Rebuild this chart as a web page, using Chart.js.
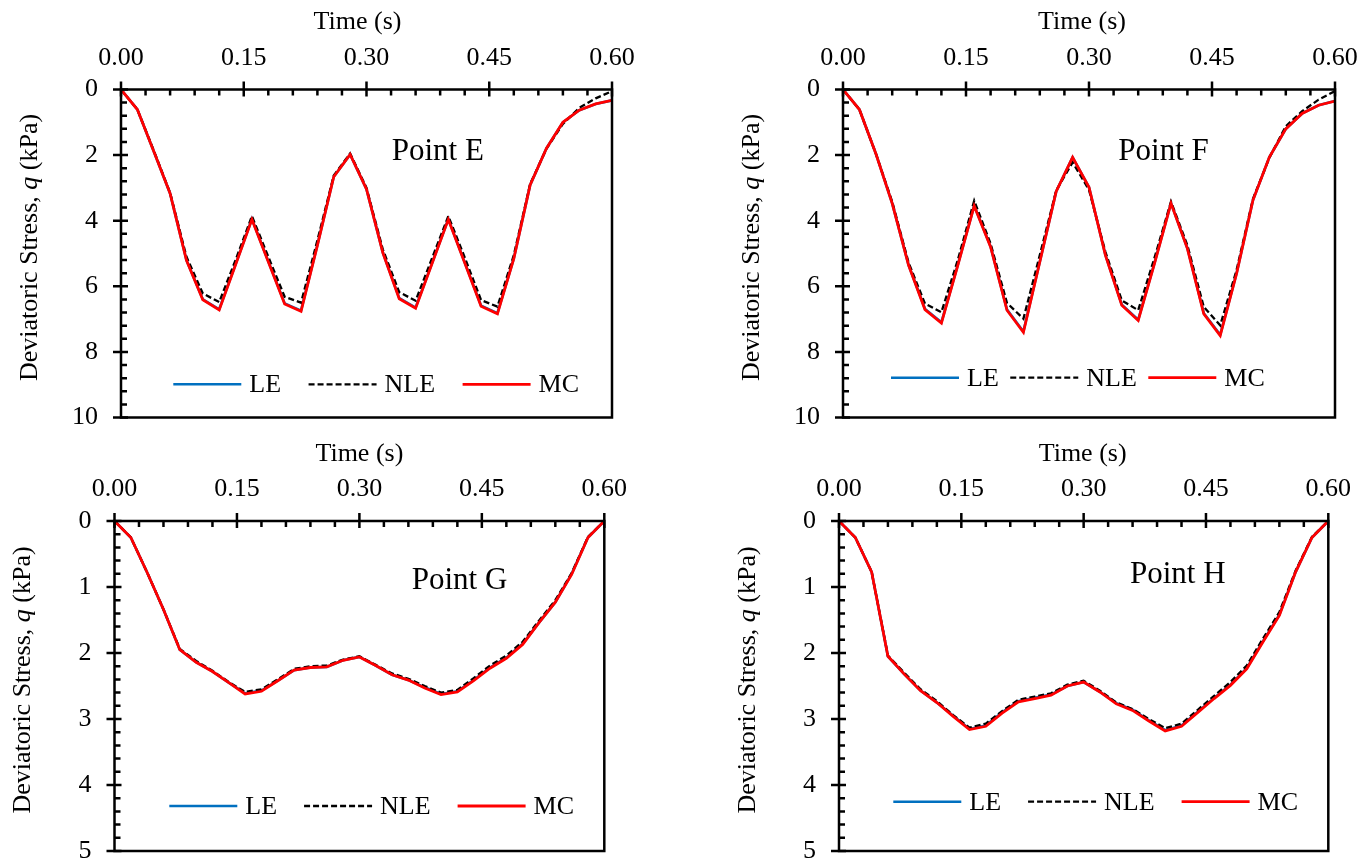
<!DOCTYPE html>
<html>
<head>
<meta charset="utf-8">
<script src="https://cdn.jsdelivr.net/npm/chart.js@4.4.0/dist/chart.umd.min.js"></script>
<style>
  html, body { margin: 0; padding: 0; background: #fff; overflow: hidden; }
  #wrap { position: relative; width: 1359px; height: 859px; }
  canvas { position: absolute; }
</style>
</head>
<body>
<div id="wrap">
  <canvas id="chartE" width="680" height="432" style="left:0;top:0"></canvas>
  <canvas id="chartF" width="679" height="432" style="left:680px;top:0"></canvas>
  <canvas id="chartG" width="680" height="427" style="left:0;top:432px"></canvas>
  <canvas id="chartH" width="679" height="427" style="left:680px;top:432px"></canvas>
</div>
<script>
// time steps (s)
const time = [0.00, 0.02, 0.04, 0.06, 0.08, 0.10, 0.12, 0.14, 0.16, 0.18, 0.20,
              0.22, 0.24, 0.26, 0.28, 0.30, 0.32, 0.34, 0.36, 0.38, 0.40,
              0.42, 0.44, 0.46, 0.48, 0.50, 0.52, 0.54, 0.56, 0.58, 0.60];

const xTicks = [0, 0.15, 0.30, 0.45, 0.60];
const yTicksTop = [0, 2, 4, 6, 8, 10];
const yTicksBottom = [0, 1, 2, 3, 4, 5];
const seriesNames = ['LE', 'NLE', 'MC'];
const pointNames = ['Point E', 'Point F', 'Point G', 'Point H'];
const xTitle = 'Time (s)';
const yTitleParts = [['Deviatoric Stress, ', 'normal'], ['q', 'italic'], [' (kPa)', 'normal']];

// deviatoric stress q (kPa)
const leE  = [0, 0.61, 1.88, 3.17, 5.20, 6.40, 6.70, 5.33, 3.95, 5.24, 6.52, 6.74, 4.74, 2.66, 1.98, 3.04,
              4.97, 6.36, 6.65, 5.30, 3.95, 5.27, 6.59, 6.82, 5.15, 2.91, 1.79, 1.00, 0.63, 0.44, 0.33];
const nleE = [0, 0.61, 1.86, 3.15, 5.10, 6.22, 6.48, 5.20, 3.86, 5.10, 6.32, 6.50, 4.60, 2.62, 1.95, 3.00,
              4.88, 6.18, 6.44, 5.15, 3.86, 5.12, 6.42, 6.62, 5.05, 2.88, 1.80, 1.05, 0.56, 0.27, 0.05];
const mcE  = [0, 0.61, 1.88, 3.17, 5.21, 6.41, 6.72, 5.34, 3.96, 5.25, 6.54, 6.76, 4.75, 2.66, 1.98, 3.04,
              4.98, 6.38, 6.67, 5.31, 3.96, 5.28, 6.61, 6.84, 5.16, 2.91, 1.79, 1.00, 0.63, 0.44, 0.33];

const leF  = [0, 0.61, 1.95, 3.47, 5.35, 6.69, 7.10, 5.35, 3.54, 4.79, 6.71, 7.38, 5.25, 3.11, 2.07, 2.98,
              5.04, 6.56, 7.02, 5.28, 3.46, 4.84, 6.82, 7.48, 5.60, 3.37, 2.06, 1.20, 0.73, 0.48, 0.35];
const nleF = [0, 0.61, 1.95, 3.42, 5.28, 6.53, 6.79, 5.20, 3.39, 4.70, 6.51, 6.99, 5.05, 3.08, 2.22, 3.06,
              4.95, 6.43, 6.73, 5.12, 3.42, 4.75, 6.63, 7.19, 5.50, 3.33, 2.08, 1.12, 0.66, 0.31, 0.05];
const mcF  = [0, 0.61, 1.95, 3.47, 5.36, 6.71, 7.12, 5.36, 3.55, 4.80, 6.73, 7.40, 5.26, 3.11, 2.07, 2.98,
              5.05, 6.58, 7.04, 5.29, 3.47, 4.85, 6.84, 7.50, 5.61, 3.37, 2.06, 1.20, 0.73, 0.48, 0.35];

const leG  = [0, 0.25, 0.78, 1.34, 1.95, 2.14, 2.28, 2.45, 2.61, 2.57, 2.42, 2.26, 2.22, 2.21, 2.11, 2.06,
              2.19, 2.33, 2.41, 2.52, 2.62, 2.58, 2.41, 2.22, 2.07, 1.86, 1.54, 1.23, 0.80, 0.25, 0];
const nleG = [0, 0.25, 0.78, 1.34, 1.94, 2.12, 2.27, 2.44, 2.59, 2.55, 2.40, 2.24, 2.20, 2.19, 2.10, 2.05,
              2.18, 2.31, 2.39, 2.50, 2.60, 2.56, 2.38, 2.19, 2.04, 1.83, 1.51, 1.20, 0.79, 0.24, 0];
const mcG  = [0, 0.25, 0.78, 1.34, 1.95, 2.14, 2.28, 2.45, 2.62, 2.58, 2.42, 2.26, 2.22, 2.21, 2.11, 2.06,
              2.19, 2.33, 2.41, 2.53, 2.63, 2.59, 2.42, 2.23, 2.08, 1.87, 1.54, 1.23, 0.81, 0.25, 0];

const leH  = [0, 0.25, 0.77, 2.05, 2.32, 2.57, 2.75, 2.95, 3.15, 3.10, 2.90, 2.73, 2.68, 2.63, 2.50, 2.44,
              2.59, 2.76, 2.86, 3.02, 3.17, 3.10, 2.89, 2.68, 2.48, 2.23, 1.82, 1.42, 0.77, 0.25, 0];
const nleH = [0, 0.25, 0.77, 2.04, 2.30, 2.55, 2.73, 2.94, 3.13, 3.07, 2.88, 2.71, 2.66, 2.61, 2.48, 2.42,
              2.57, 2.75, 2.85, 3.00, 3.14, 3.07, 2.86, 2.65, 2.44, 2.19, 1.78, 1.38, 0.75, 0.24, 0];
const mcH  = [0, 0.25, 0.77, 2.05, 2.32, 2.57, 2.75, 2.96, 3.16, 3.11, 2.91, 2.74, 2.69, 2.64, 2.50, 2.44,
              2.59, 2.77, 2.87, 3.03, 3.18, 3.11, 2.90, 2.69, 2.49, 2.24, 1.83, 1.43, 0.77, 0.25, 0];

const FONT = '"Liberation Serif", "Times New Roman", serif';
Chart.defaults.font.family = FONT;
Chart.defaults.color = '#000';

// box round the plot, crossing major ticks and inward minor ticks
const framePlugin = {
  id: 'frame',
  afterDraw(chart, args, o) {
    const { ctx, chartArea: a, scales: { x, y } } = chart;
    ctx.save();
    ctx.strokeStyle = '#000';
    ctx.lineWidth = 2.5;
    ctx.strokeRect(a.left, a.top, a.right - a.left, a.bottom - a.top);
    ctx.beginPath();
    const nx = Math.round((x.max - x.min) / o.xMinor);
    for (let i = 0; i <= nx; i++) {
      const v = x.min + i * o.xMinor;
      const px = x.getPixelForValue(v);
      const major = x.ticks.some(t => Math.abs(t.value - v) < 1e-6);
      ctx.moveTo(px, major ? a.top - 8 : a.top);
      ctx.lineTo(px, a.top + (major ? 7 : 6));
    }
    const ny = Math.round((y.max - y.min) / o.yMinor);
    for (let i = 0; i <= ny; i++) {
      const v = y.min + i * o.yMinor;
      const py = y.getPixelForValue(v);
      const major = y.ticks.some(t => Math.abs(t.value - v) < 1e-6);
      ctx.moveTo(major ? a.left - 8 : a.left, py);
      ctx.lineTo(a.left + (major ? 7 : 6), py);
    }
    ctx.stroke();

    // x axis title above the tick labels
    ctx.font = '26px ' + FONT;
    ctx.fillStyle = '#000';
    ctx.textAlign = 'center';
    ctx.textBaseline = 'middle';
    ctx.fillText(xTitle, (a.left + a.right) / 2 + o.titleDx, a.top - o.titleDy);
    ctx.restore();
  }
};

// vertical axis title with italic q
const yTitlePlugin = {
  id: 'yTitle',
  afterDraw(chart, args, o) {
    const { ctx, chartArea: a } = chart;
    ctx.save();
    ctx.translate(a.left - o.dx, (a.top + a.bottom) / 2 + o.dy);
    ctx.rotate(-Math.PI / 2);
    ctx.fillStyle = '#000';
    ctx.textBaseline = 'middle';
    let total = 0;
    const widths = yTitleParts.map(([txt, st]) => {
      ctx.font = st + ' 26px ' + FONT;
      const w = ctx.measureText(txt).width;
      total += w;
      return w;
    });
    let x = -total / 2;
    yTitleParts.forEach(([txt, st], i) => {
      ctx.font = st + ' 26px ' + FONT;
      ctx.fillText(txt, x, 0);
      x += widths[i];
    });
    ctx.restore();
  }
};

// legend drawn inside the plot area
const legendPlugin = {
  id: 'inLegend',
  afterDraw(chart, args, o) {
    const { ctx, chartArea: a } = chart;
    let x = a.left + o.dx;
    const y = a.bottom - o.dy;
    ctx.save();
    ctx.font = '26px ' + FONT;
    ctx.textBaseline = 'middle';
    ctx.fillStyle = '#000';
    chart.data.datasets.forEach(ds => {
      ctx.beginPath();
      ctx.setLineDash(ds.borderDash || []);
      ctx.strokeStyle = ds.borderColor;
      ctx.lineWidth = ds.borderWidth;
      ctx.moveTo(x, y);
      ctx.lineTo(x + 68, y);
      ctx.stroke();
      x += 76;
      ctx.fillText(ds.label, x, y + 1);
      x += ctx.measureText(ds.label).width + o.gap;
    });
    ctx.restore();
  }
};

const pointLabelPlugin = {
  id: 'pointLabel',
  afterDraw(chart, args, o) {
    const { ctx, chartArea: a } = chart;
    ctx.save();
    ctx.font = '31px ' + FONT;
    ctx.fillStyle = '#000';
    ctx.textBaseline = 'alphabetic';
    ctx.fillText(o.text, a.left + o.dx, a.top + o.dy);
    ctx.restore();
  }
};

const panels = [
  { id: 'chartE', name: pointNames[0], le: leE, nle: nleE, mc: mcE, yTicks: yTicksTop, yMinor: 0.4,
    left: 121, top: 89.5, padRight: 68, padBottom: 14.5, titleDx: -9,
    legend: { dx: 52.3, dy: 33.2, gap: 27.5 }, label: { dx: 270.7, dy: 70.5 }, titleDy: -6 },
  { id: 'chartF', name: pointNames[1], le: leF, nle: nleF, mc: mcF, yTicks: yTicksTop, yMinor: 0.4,
    left: 163, top: 89.5, padRight: 24, padBottom: 14.5, titleDx: -7,
    legend: { dx: 48, dy: 39.8, gap: 11.5 }, label: { dx: 275.3, dy: 70.5 }, titleDy: -6 },
  { id: 'chartG', name: pointNames[2], le: leG, nle: nleG, mc: mcG, yTicks: yTicksBottom, yMinor: 0.2,
    left: 114.5, top: 89, padRight: 75.7, padBottom: 8, titleDx: 0,
    legend: { dx: 54.8, dy: 45, gap: 27 }, label: { dx: 297.2, dy: 68 }, titleDy: -6 },
  { id: 'chartH', name: pointNames[3], le: leH, nle: nleH, mc: mcH, yTicks: yTicksBottom, yMinor: 0.2,
    left: 159, top: 89, padRight: 30.7, padBottom: 8, titleDx: -1,
    legend: { dx: 54.3, dy: 49.3, gap: 27 }, label: { dx: 291, dy: 62.3 }, titleDy: -6 }
];

function makeChart(p) {
  const ctx = document.getElementById(p.id).getContext('2d');
  const pts = arr => time.map((t, i) => ({ x: t, y: arr[i] }));
  const yMax = p.yTicks[p.yTicks.length - 1];

  return new Chart(ctx, {
    type: 'line',
    data: {
      datasets: [
        { label: seriesNames[0], data: pts(p.le), borderColor: '#0070C0', borderWidth: 2.6, order: 2 },
        { label: seriesNames[1], data: pts(p.nle), borderColor: '#000000', borderWidth: 2.3, borderDash: [6, 3], order: 1 },
        { label: seriesNames[2], data: pts(p.mc), borderColor: '#FF0000', borderWidth: 2.8, order: 0 }
      ]
    },
    options: {
      responsive: false,
      animation: false,
      events: [],
      elements: { point: { radius: 0 }, line: { tension: 0, fill: false } },
      layout: { padding: { left: 0, top: 0, right: p.padRight, bottom: p.padBottom } },
      plugins: {
        legend: { display: false },
        tooltip: { enabled: false },
        frame: { xMinor: 0.03, yMinor: p.yMinor, titleDx: p.titleDx, titleDy: 67 },
        yTitle: { dx: 91, dy: p.titleDy },
        inLegend: p.legend,
        pointLabel: { text: p.name, dx: p.label.dx, dy: p.label.dy }
      },
      scales: {
        x: {
          type: 'linear',
          position: 'top',
          min: 0,
          max: 0.6,
          afterBuildTicks: s => { s.ticks = xTicks.map(v => ({ value: v })); },
          afterFit: s => { s.height = p.top; s.paddingLeft = 0; s.paddingRight = 0; },
          grid: { display: false, drawTicks: false },
          border: { display: false },
          ticks: { padding: 16, autoSkip: false, maxRotation: 0, font: { size: 26 },
                   callback: v => v.toFixed(2) }
        },
        y: {
          type: 'linear',
          position: 'left',
          reverse: true,
          min: 0,
          max: yMax,
          afterBuildTicks: s => { s.ticks = p.yTicks.map(v => ({ value: v })); },
          afterFit: s => { s.width = p.left; s.paddingTop = 0; s.paddingBottom = 0; },
          grid: { display: false, drawTicks: false },
          border: { display: false },
          ticks: { padding: 23, autoSkip: false, font: { size: 26 }, callback: v => String(v) }
        }
      }
    },
    plugins: [framePlugin, yTitlePlugin, legendPlugin, pointLabelPlugin]
  });
}

panels.forEach(makeChart);
</script>
</body>
</html>
